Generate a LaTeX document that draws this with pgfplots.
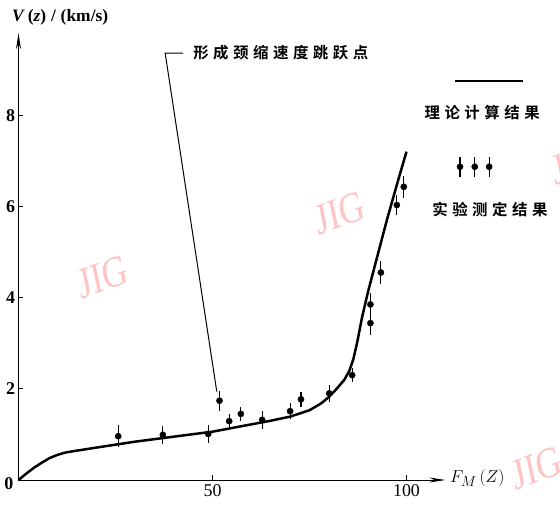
\documentclass[border=0pt]{standalone}
\usepackage{fontspec}
\setmainfont{Liberation Serif}
\newfontfamily\cjk{Noto Sans CJK SC Bold}
\usepackage{pgfplots}
\pgfplotsset{compat=1.18}
\usetikzlibrary{arrows.meta}
\definecolor{wm}{RGB}{255,195,195}
\newcommand\g{\hspace{4.5bp}}
\begin{document}
\begin{tikzpicture}
\begin{axis}[
  at={(18.5bp,-480bp)}, anchor=south west,
  scale only axis, width=426.8bp, height=446.9bp,
  xmin=0, xmax=110, ymin=0, ymax=9.8,
  axis lines=left,
  axis line style={line width=1bp, -{Stealth[length=16bp,width=5bp]}},
  xtick={50,100}, ytick={2,4,6,8},
  tick align=inside, major tick length=5bp,
  tick style={line width=0.8bp, black},
  xticklabel style={font=\fontsize{18}{18}\selectfont, yshift=-1bp},
  yticklabel style={font=\fontsize{18}{18}\selectfont\bfseries},
  /pgf/number format/assume math mode=true,
  clip=false,
]
% theoretical curve
\addplot[line width=2.5bp, black] coordinates {
(0,0) (2,0.14) (4,0.27) (6,0.38) (8,0.48) (10,0.55) (12,0.60) (14,0.63)
(20,0.71) (30,0.84) (40,0.95) (50,1.06) (60,1.22) (65,1.30) (70,1.39)
(75,1.53) (78,1.68) (80,1.82) (82,2.00) (84,2.20) (85.3,2.40) (86.3,2.65)
(87.3,3.02) (88.5,3.55) (90,4.10) (92,4.75) (95,5.72) (98,6.62) (100,7.20)};
% experimental points
\addplot[only marks, mark=*, mark size=3.1bp, black,
  error bars/.cd, y dir=both, y explicit, error mark=none,
  error bar style={line width=1.2bp, black}] coordinates {
(25.7,0.96) +- (0,0.24)
(37.2,0.99) +- (0,0.20)
(48.9,1.01) +- (0,0.20)
(51.8,1.74) +- (0,0.22)
(54.3,1.29) +- (0,0.15)
(57.3,1.45) +- (0,0.15)
(62.8,1.32) +- (0,0.20)
(70.0,1.51) +- (0,0.17)
(72.8,1.77) +- (0,0.17)
(80.1,1.90) +- (0,0.18)
(86.0,2.30) +- (0,0.15)
(90.7,3.85) +- (0,0.25)
(90.7,3.44) +- (0,0.25)
(93.4,4.55) +- (0,0.25)
(97.5,6.03) +- (0,0.22)
(99.3,6.43) +- (0,0.24)};
% annotation leader
\addplot[line width=1bp, black] coordinates {(42.4,9.36) (37.8,9.36) (51.1,1.94)};
% legend samples
\addplot[line width=1.2bp, black] coordinates {(112.5,8.75) (130,8.75)};
\addplot[only marks, mark=*, mark size=3.1bp, black,
  error bars/.cd, y dir=both, y explicit, error mark=none,
  error bar style={line width=1.2bp, black}] coordinates {
(113.8,6.87) +- (0,0.22)
(117.6,6.87) +- (0,0.22)
(121.3,6.87) +- (0,0.22)};
% texts
\node[anchor=west, inner sep=0pt, font=\cjk\fontsize{15.5}{15.5}\selectfont] at (axis cs:45.0,9.37)
  {形\g 成\g 颈\g 缩\g 速\g 度\g 跳\g 跃\g 点};
\node[inner sep=0pt, font=\cjk\fontsize{15.5}{15.5}\selectfont] at (axis cs:119.5,8.05)
  {理\g 论\g 计\g 算\g 结\g 果};
\node[inner sep=0pt, font=\cjk\fontsize{15.5}{15.5}\selectfont] at (axis cs:121.5,5.92)
  {实\g 验\g 测\g 定\g 结\g 果};
\node[anchor=west, inner sep=0pt, font=\fontsize{17.5}{17.5}\selectfont\bfseries] at (axis cs:-1.7,10.15)
  {\textit{V}\,(\textit{z})\;/\;(km/s)};
\node[anchor=west, inner sep=0pt, font=\fontsize{19}{19}\selectfont] at (axis cs:111.2,0.03)
  {$F_M\,(Z)$};
\node[anchor=east, inner sep=0pt, font=\fontsize{18}{18}\selectfont\bfseries] at (axis cs:-1.3,-0.08) {0};
\end{axis}
% watermarks
\begin{scope}[every node/.style={text=wm, font=\fontsize{44}{44}\selectfont, xscale=0.8, rotate=15, inner sep=0pt}]
\node at (103bp,-277bp) {JIG};
\node at (340bp,-213bp) {JIG};
\node at (577bp,-163bp) {JIG};
\node at (537bp,-468bp) {JIG};
\end{scope}
\pgfresetboundingbox
\path (0bp,0bp) rectangle (560bp,-506bp);
\end{tikzpicture}
\end{document}
